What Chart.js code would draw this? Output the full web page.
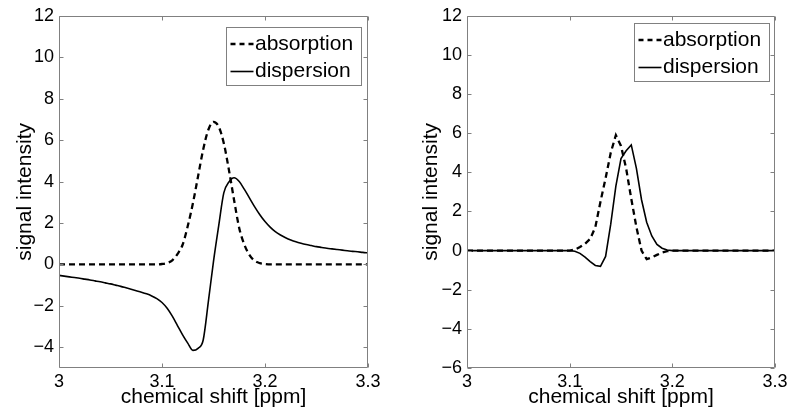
<!DOCTYPE html>
<html>
<head>
<meta charset="utf-8">
<script src="https://cdn.jsdelivr.net/npm/chart.js@4.4.1/dist/chart.umd.min.js"></script>
<style>
  html, body { margin: 0; padding: 0; background: #fff; }
  #wrap { position: relative; width: 791px; height: 413px; }
  canvas { position: absolute; top: 0; }
</style>
</head>
<body>
<div id="wrap">
  <canvas id="left-chart" width="395" height="413" style="left:0"></canvas>
  <canvas id="right-chart" width="396" height="413" style="left:395px"></canvas>
</div>
<script>
// chemical shift axis, 0.005 ppm steps
const shiftPpm = [
  3.000, 3.005, 3.010, 3.015, 3.020, 3.025, 3.030, 3.035, 3.040, 3.045,
  3.050, 3.055, 3.060, 3.065, 3.070, 3.075, 3.080, 3.085, 3.090, 3.095,
  3.100, 3.105, 3.110, 3.115, 3.120, 3.125, 3.130, 3.135, 3.140, 3.145,
  3.150, 3.155, 3.160, 3.165, 3.170, 3.175, 3.180, 3.185, 3.190, 3.195,
  3.200, 3.205, 3.210, 3.215, 3.220, 3.225, 3.230, 3.235, 3.240, 3.245,
  3.250, 3.255, 3.260, 3.265, 3.270, 3.275, 3.280, 3.285, 3.290, 3.295,
  3.300
];

// left panel
const absorptionLeft = [
  0, 0, 0, 0, 0, 0, 0, 0, 0, 0,
  0, 0, 0, 0, 0, 0, 0, 0, 0, 0,
  0.02, 0.07, 0.2, 0.5, 0.95, 1.85, 2.95, 4.25, 5.55, 6.5,
  6.88, 6.65, 5.85, 4.55, 3.1, 1.75, 0.95, 0.45, 0.17, 0.06,
  0.02, 0, 0, 0, 0, 0, 0, 0, 0, 0,
  0, 0, 0, 0, 0, 0, 0, 0, 0, 0,
  0
];
const dispersionLeft = [
  -0.53, -0.565, -0.6, -0.635, -0.67, -0.71, -0.75, -0.795, -0.84, -0.89,
  -0.94, -1.0, -1.06, -1.13, -1.2, -1.27, -1.34, -1.42, -1.52, -1.65,
  -1.84, -2.12, -2.5, -2.95, -3.4, -3.8, -4.15, -4.05, -3.65, -1.8,
  0.15, 1.85, 3.45, 3.98, 4.18, 4.0, 3.62, 3.2, 2.78, 2.4,
  2.07, 1.8, 1.58, 1.42, 1.29, 1.18, 1.09, 1.02, 0.96, 0.91,
  0.86, 0.82, 0.78, 0.75, 0.72, 0.69, 0.66, 0.63, 0.61, 0.58,
  0.56
];

// right panel
const absorptionRight = [
  0, 0, 0, 0, 0, 0, 0, 0, 0, 0,
  0, 0, 0, 0, 0, 0, 0, 0, 0, 0,
  0, 0.05, 0.18, 0.35, 0.6, 1.2, 2.5, 3.7, 5.0, 5.9,
  5.35, 4.2, 2.65, 1.2, 0.0, -0.44, -0.35, -0.22, -0.1, -0.03,
  0, 0, 0, 0, 0, 0, 0, 0, 0, 0,
  0, 0, 0, 0, 0, 0, 0, 0, 0, 0,
  0
];
const dispersionRight = [
  0, 0, 0, 0, 0, 0, 0, 0, 0, 0,
  0, 0, 0, 0, 0, 0, 0, 0, 0, 0,
  0, -0.03, -0.14, -0.33, -0.56, -0.76, -0.8, -0.3, 1.35, 3.3,
  4.7, 5.1, 5.4, 4.2, 2.6, 1.45, 0.75, 0.32, 0.12, 0.03,
  0, 0, 0, 0, 0, 0, 0, 0, 0, 0,
  0, 0, 0, 0, 0, 0, 0, 0, 0, 0,
  0
];

const xTicks = [3, 3.1, 3.2, 3.3];
const yTicksLeft = [-4, -2, 0, 2, 4, 6, 8, 10, 12];
const yTicksRight = [-6, -4, -2, 0, 2, 4, 6, 8, 10, 12];

const FONT_FAMILY = '"Liberation Sans", Arial, Helvetica, sans-serif';
const AXIS_GREY = '#808080';

function fmt(v) {
  const n = Number(v.toFixed(1));
  return n < 0 ? '\u2212' + Math.abs(n) : String(n);
}

// matlab style box with inward ticks on all four sides
const framePlugin = {
  id: 'frame',
  afterDatasetsDraw(chart) {
    const { ctx, chartArea: a, scales: { x, y } } = chart;
    const L = Math.round(a.left) + 0.5, R = Math.round(a.right) - 0.5;
    const T = Math.round(a.top) + 0.5, B = Math.round(a.bottom) - 0.5;
    const len = 4;
    ctx.save();
    ctx.strokeStyle = AXIS_GREY;
    ctx.lineWidth = 1;
    ctx.setLineDash([]);
    ctx.beginPath();
    ctx.rect(L, T, R - L, B - T);
    x.ticks.forEach(t => {
      const px = Math.round(x.getPixelForValue(t.value)) + 0.5;
      ctx.moveTo(px, B); ctx.lineTo(px, B - len);
      ctx.moveTo(px, T); ctx.lineTo(px, T + len);
    });
    y.ticks.forEach(t => {
      const py = Math.round(y.getPixelForValue(t.value)) + 0.5;
      ctx.moveTo(L, py); ctx.lineTo(L + len, py);
      ctx.moveTo(R, py); ctx.lineTo(R - len, py);
    });
    ctx.stroke();
    ctx.restore();
  }
};

// legend box in the top right corner of the plot
const boxLegendPlugin = {
  id: 'boxLegend',
  afterDraw(chart, args, opts) {
    const { ctx, chartArea: a } = chart;
    const w = 135, h = 58;
    const bx = Math.round(a.right - opts.offsetRight - w) + 0.5;
    const by = Math.round(a.top + opts.offsetTop) + 0.5;
    ctx.save();
    ctx.fillStyle = '#fff';
    ctx.fillRect(bx, by, w, h);
    ctx.strokeStyle = AXIS_GREY;
    ctx.lineWidth = 1;
    ctx.strokeRect(bx, by, w, h);
    ctx.font = '21px ' + FONT_FAMILY;
    ctx.textBaseline = 'middle';
    ctx.textAlign = 'left';
    chart.data.datasets.forEach((ds, i) => {
      const ly = by + 16.5 + i * 27.5;
      ctx.strokeStyle = ds.borderColor;
      ctx.lineWidth = ds.borderWidth;
      ctx.setLineDash(ds.borderDash ? [5, 4] : []);
      ctx.beginPath();
      ctx.moveTo(bx + 4, ly);
      ctx.lineTo(bx + 27, ly);
      ctx.stroke();
      ctx.fillStyle = '#000';
      ctx.fillText(ds.label, bx + 28.5, ly);
    });
    ctx.restore();
  }
};

function makeChart(id, absorption, dispersion, yMin, yTicks, layout) {
  const pts = arr => shiftPpm.map((x, i) => ({ x: x, y: arr[i] }));
  const interp = layout.smooth ? 'monotone' : 'default';
  return new Chart(document.getElementById(id), {
    type: 'line',
    data: {
      datasets: [
        {
          label: 'absorption',
          data: pts(absorption),
          borderColor: '#000',
          borderWidth: 2.3,
          borderDash: [6, 4],
          pointRadius: 0,
          tension: 0,
          cubicInterpolationMode: interp,
          fill: false
        },
        {
          label: 'dispersion',
          data: pts(dispersion),
          borderColor: '#000',
          borderWidth: 1.6,
          pointRadius: 0,
          tension: 0,
          cubicInterpolationMode: interp,
          fill: false
        }
      ]
    },
    options: {
      responsive: false,
      animation: false,
      devicePixelRatio: 1,
      layout: { padding: { top: 13, right: layout.padRight, left: 0, bottom: 0 } },
      plugins: {
        legend: { display: false },
        tooltip: { enabled: false },
        boxLegend: { offsetRight: layout.legendRight, offsetTop: layout.legendTop }
      },
      scales: {
        x: {
          type: 'linear',
          min: 3,
          max: 3.3,
          afterBuildTicks: s => { s.ticks = xTicks.map(v => ({ value: v })); },
          afterFit: s => { s.height = 45; },
          grid: { display: false, drawTicks: false },
          border: { display: false },
          ticks: {
            autoSkip: false,
            maxRotation: 0,
            padding: 3,
            color: '#000',
            font: { family: FONT_FAMILY, size: 18 },
            callback: v => fmt(v)
          },
          title: {
            display: true,
            text: 'chemical shift [ppm]',
            color: '#000',
            font: { family: FONT_FAMILY, size: 21 },
            padding: { top: 0, bottom: 3.5 }
          }
        },
        y: {
          min: yMin,
          max: 12,
          afterBuildTicks: s => { s.ticks = yTicks.map(v => ({ value: v })); },
          afterFit: s => { s.width = layout.yWidth; },
          grid: { display: false, drawTicks: false },
          border: { display: false },
          ticks: {
            autoSkip: false,
            padding: 5,
            color: '#000',
            font: { family: FONT_FAMILY, size: 18 },
            callback: v => fmt(v)
          },
          title: {
            display: true,
            text: 'signal intensity',
            color: '#000',
            font: { family: FONT_FAMILY, size: 21 },
            padding: { top: layout.titlePad, bottom: 0 }
          }
        }
      }
    },
    plugins: [framePlugin, boxLegendPlugin]
  });
}

makeChart('left-chart', absorptionLeft, dispersionLeft, -5, yTicksLeft,
  { padRight: 27, yWidth: 59, titlePad: 13, legendRight: 7, legendTop: 11, smooth: true });
makeChart('right-chart', absorptionRight, dispersionRight, -6, yTicksRight,
  { padRight: 16, yWidth: 72, titlePad: 23.5, legendRight: 6.5, legendTop: 7, smooth: false });
</script>
</body>
</html>
